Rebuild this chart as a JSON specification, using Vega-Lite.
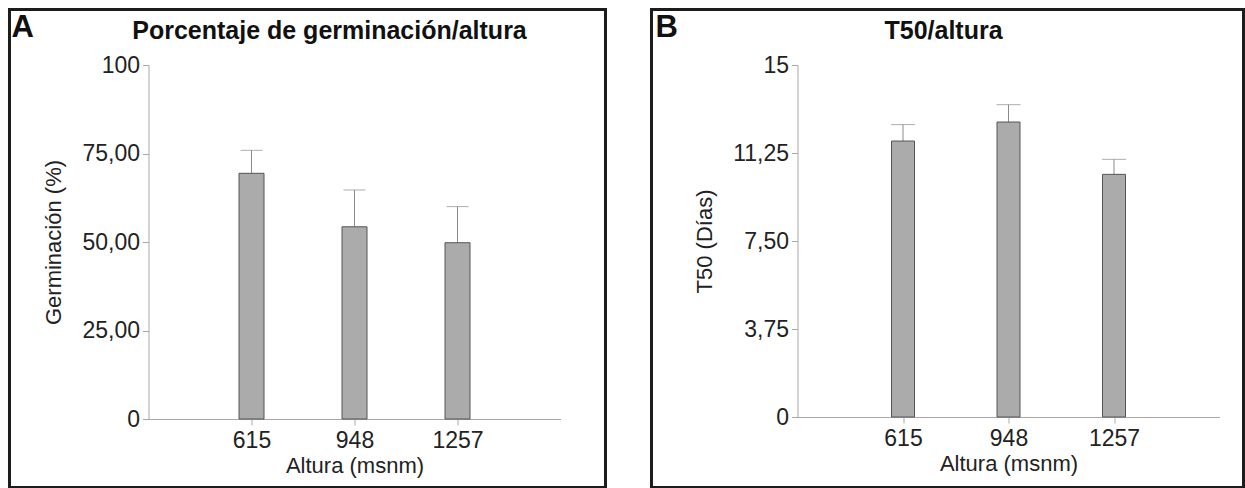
{
  "$schema": "https://vega.github.io/schema/vega-lite/v6.json",
  "padding": {"left": 7.5, "top": 7, "right": 0, "bottom": 0},
  "spacing": 42,
  "background": "white",
  "config": {
    "view": {"stroke": null},
    "font": "Liberation Sans",
    "axis": {
      "grid": false,
      "domainColor": "#a8a8a8",
      "tickColor": "#a8a8a8",
      "tickSize": 6,
      "labelFont": "Liberation Sans",
      "titleFont": "Liberation Sans",
      "labelFontSize": 23,
      "titleFontSize": 22,
      "labelColor": "#222222",
      "titleColor": "#222222",
      "titleFontWeight": "normal"
    },
    "axisX": {"labelAngle": 0, "labelPadding": 4, "titlePadding": 3},
    "axisY": {"labelPadding": 3, "titlePadding": 16}
  },
  "datasets": {
    "germ": [
      {"altura": "615", "media": 69.4, "sup": 75.9},
      {"altura": "948", "media": 54.3, "sup": 64.7},
      {"altura": "1257", "media": 49.8, "sup": 60.0}
    ],
    "t50": [
      {"altura": "615", "media": 11.76, "sup": 12.46},
      {"altura": "948", "media": 12.57, "sup": 13.31},
      {"altura": "1257", "media": 10.34, "sup": 10.98}
    ]
  },
  "hconcat": [
    {
      "width": 412,
      "height": 354,
      "layer": [
        {
          "data": {"name": "germ"},
          "encoding": {
            "x": {"field": "altura", "type": "ordinal", "sort": ["615", "948", "1257"], "scale": {"type": "point", "padding": 1}, "title": "Altura (msnm)"},
            "y": {"field": "media", "type": "quantitative", "scale": {"domain": [0, 100], "nice": false}, "title": "Germinación (%)",
                  "axis": {"values": [0, 25, 50, 75, 100], "labelExpr": "datum.value == 0 || datum.value == 100 ? format(datum.value, 'd') : replace(format(datum.value, '.2f'), '.', ',')"}}
          },
          "layer": [
            {"mark": {"type": "rule", "color": "#8a8a8a", "strokeWidth": 1}, "encoding": {"y2": {"field": "sup"}}},
            {"mark": {"type": "tick", "orient": "horizontal", "size": 22, "thickness": 1, "color": "#8a8a8a"}, "encoding": {"y": {"field": "sup", "type": "quantitative"}}},
            {"mark": {"type": "bar", "size": 25, "fill": "#ababab", "stroke": "#555555", "strokeWidth": 1}}
          ]
        },
        {
          "data": {"values": [{}]},
          "layer": [
            {
              "mark": {"type": "rect", "filled": false, "color": "#1c1c1c", "strokeWidth": 3},
              "encoding": {
                "x": {"datum": -0.3374, "type": "quantitative", "scale": {"domain": [0, 1], "nice": false, "zero": false}, "axis": null},
                "x2": {"datum": 1.1092},
                "y": {"datum": 1.1568, "type": "quantitative", "scale": {"domain": [0, 1], "nice": false, "zero": false}, "axis": null},
                "y2": {"datum": -0.1935}
              }
            },
            {
              "mark": {"type": "text", "text": "A", "fontSize": 31, "fontWeight": "bold", "align": "left", "baseline": "middle", "color": "#111111"},
              "encoding": {
                "x": {"datum": -0.3325, "type": "quantitative"},
                "y": {"datum": 1.1045, "type": "quantitative"}
              }
            },
            {
              "mark": {"type": "text", "text": "Porcentaje de germinación/altura", "fontSize": 25, "fontWeight": "bold", "align": "center", "baseline": "alphabetic", "color": "#111111"},
              "encoding": {
                "x": {"datum": 0.4393, "type": "quantitative"},
                "y": {"datum": 1.0734, "type": "quantitative"}
              }
            }
          ]
        }
      ],
      "resolve": {"scale": {"x": "independent", "y": "independent"}}
    },
    {
      "width": 422,
      "height": 352,
      "layer": [
        {
          "data": {"name": "t50"},
          "encoding": {
            "x": {"field": "altura", "type": "ordinal", "sort": ["615", "948", "1257"], "scale": {"type": "point", "padding": 1}, "title": "Altura (msnm)"},
            "y": {"field": "media", "type": "quantitative", "scale": {"domain": [0, 15], "nice": false}, "title": "T50 (Días)",
                  "axis": {"values": [0, 3.75, 7.5, 11.25, 15], "labelExpr": "datum.value == 0 || datum.value == 15 ? format(datum.value, 'd') : replace(format(datum.value, '.2f'), '.', ',')"}}
          },
          "layer": [
            {"mark": {"type": "rule", "color": "#8a8a8a", "strokeWidth": 1}, "encoding": {"y2": {"field": "sup"}}},
            {"mark": {"type": "tick", "orient": "horizontal", "size": 24, "thickness": 1, "color": "#8a8a8a"}, "encoding": {"y": {"field": "sup", "type": "quantitative"}}},
            {"mark": {"type": "bar", "size": 23, "fill": "#ababab", "stroke": "#555555", "strokeWidth": 1}}
          ]
        },
        {
          "data": {"values": [{}]},
          "layer": [
            {
              "mark": {"type": "rect", "filled": false, "color": "#1c1c1c", "strokeWidth": 3},
              "encoding": {
                "x": {"datum": -0.3460, "type": "quantitative", "scale": {"domain": [0, 1], "nice": false, "zero": false}, "axis": null},
                "x2": {"datum": 1.0569},
                "y": {"datum": 1.1577, "type": "quantitative", "scale": {"domain": [0, 1], "nice": false, "zero": false}, "axis": null},
                "y2": {"datum": -0.2003}
              }
            },
            {
              "mark": {"type": "text", "text": "B", "fontSize": 31, "fontWeight": "bold", "align": "left", "baseline": "middle", "color": "#111111"},
              "encoding": {
                "x": {"datum": -0.3365, "type": "quantitative"},
                "y": {"datum": 1.1051, "type": "quantitative"}
              }
            },
            {
              "mark": {"type": "text", "text": "T50/altura", "fontSize": 25, "fontWeight": "bold", "align": "center", "baseline": "alphabetic", "color": "#111111"},
              "encoding": {
                "x": {"datum": 0.346, "type": "quantitative"},
                "y": {"datum": 1.0739, "type": "quantitative"}
              }
            }
          ]
        }
      ],
      "resolve": {"scale": {"x": "independent", "y": "independent"}}
    }
  ]
}
